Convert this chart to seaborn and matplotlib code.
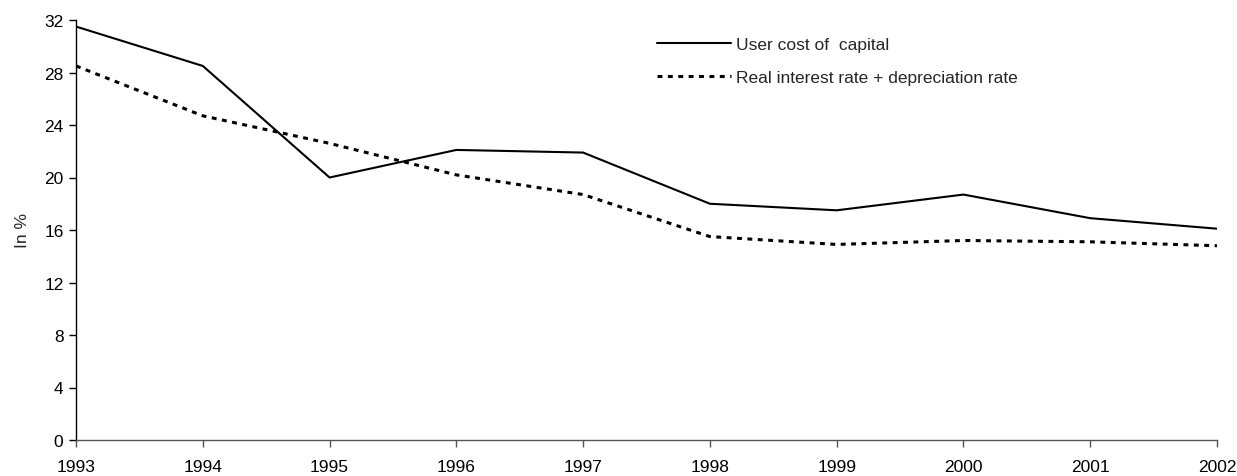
import matplotlib
matplotlib.use("Agg")
import matplotlib.pyplot as plt
import seaborn as sns
import pandas as pd

years = [1993, 1994, 1995, 1996, 1997, 1998, 1999, 2000, 2001, 2002]
user_cost = [31.5, 28.5, 20.0, 22.1, 21.9, 18.0, 17.5, 18.7, 16.9, 16.1]
real_rate_dep = [28.5, 24.7, 22.6, 20.2, 18.7, 15.5, 14.9, 15.2, 15.1, 14.8]
y_ticks = [0, 4, 8, 12, 16, 20, 24, 28, 32]

sns.set_style("white")
plt.rcParams["font.family"] = ["Liberation Sans", "DejaVu Sans"]

FS = 12.5

df = pd.DataFrame({
    "year": years * 2,
    "value": user_cost + real_rate_dep,
    "series": ["User cost of capital"] * len(years)
              + ["Real interest rate + depreciation rate"] * len(years),
})

fig = plt.figure(figsize=(12.37, 4.77), dpi=100)
ax = fig.add_axes([76 / 1237, 1 - 441 / 477, (1217 - 76) / 1237, 420 / 477])

sns.lineplot(data=df[df.series == "User cost of capital"], x="year", y="value",
             ax=ax, color="black", linewidth=1.5, label="User cost of  capital")
sns.lineplot(data=df[df.series != "User cost of capital"], x="year", y="value",
             ax=ax, color="black", linewidth=2.2,
             label="Real interest rate + depreciation rate")
ax.lines[1].set_dashes([1.6, 1.8])

ax.set_xlim(years[0], years[-1])
ax.set_ylim(0, 32)
ax.set_xticks(years)
ax.set_yticks(y_ticks)
ax.tick_params(axis="both", labelsize=FS, length=5, width=1, direction="out",
               colors="black", pad=4, bottom=True, left=True)
ax.tick_params(axis="x", pad=9, color="#555555")
ax.set_xlabel("")
ax.set_ylabel("In %", fontsize=FS, labelpad=10)

for side in ("top", "right"):
    ax.spines[side].set_visible(False)
ax.spines["left"].set_color("black")
ax.spines["left"].set_linewidth(1)
ax.spines["bottom"].set_color("#555555")
ax.spines["bottom"].set_linewidth(1)

leg = ax.legend(loc="upper left", bbox_to_anchor=(0.509, 0.96), frameon=False,
                fontsize=FS, handlelength=4.25, handletextpad=0.3,
                labelspacing=1.05, borderaxespad=0, borderpad=0)
leg.get_lines()[1].set_dashes([1.6, 1.8])

fig.savefig("out.png", dpi=100, facecolor="white")
